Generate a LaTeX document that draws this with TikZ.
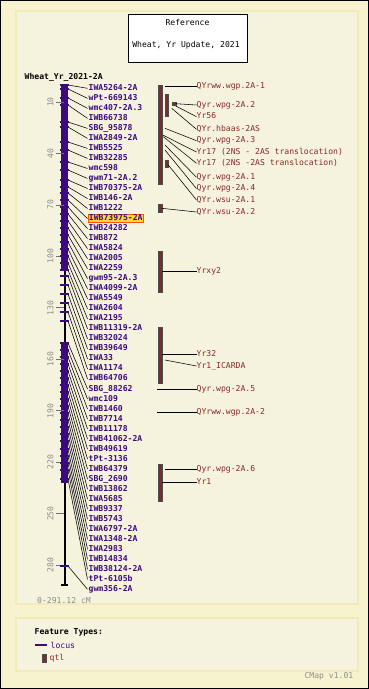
\documentclass[tikz,border=0pt]{standalone}
\usepackage{fontspec}
\newfontfamily\mf{DejaVu Sans Mono}
\definecolor{outerbg}{HTML}{F8F3CF}
\definecolor{innerbg}{HTML}{F5F2DD}
\definecolor{panelborder}{HTML}{F1EBBA}
\definecolor{locus}{HTML}{3D0A7D}
\definecolor{qtltext}{HTML}{8B2A2A}
\definecolor{qtlfill}{HTML}{7A2E2A}
\definecolor{scalegray}{HTML}{8E8E8E}
\definecolor{hlfill}{HTML}{FFD43A}
\definecolor{hlborder}{HTML}{F25A00}
\tikzset{
  basefont/.style={font=\mf\fontsize{8.1}{9}\selectfont},
  leftlab/.style={anchor=west, inner xsep=1pt, inner ysep=0.5pt, text height=5.8pt, text depth=1.6pt,
                  font=\mf\fontsize{8.1}{9}\selectfont\bfseries, text=locus},
  rightlab/.style={anchor=west, inner xsep=0pt, inner ysep=0.5pt, text height=5.8pt, text depth=1.6pt,
                  font=\mf\fontsize{8.1}{9}\selectfont, text=qtltext},
  plainlab/.style={},
  hlbox/.style={fill=hlfill, draw=hlborder, line width=0.8pt},
  conn/.style={draw=black, line width=0.55pt},
  ltick/.style={draw=locus, line width=1.3pt},
  qtlbar/.style={rectangle, fill=qtlfill, draw=black!70, line width=0.4pt, minimum width=3.4pt, inner sep=0pt},
  scalelab/.style={rotate=90, text=scalegray, font=\mf\fontsize{8.1}{9}\selectfont, inner sep=0pt},
  scaletick/.style={draw=scalegray!80!black, line width=0.7pt},
}
\begin{document}
\begin{tikzpicture}[x=1pt,y=-1pt]
\useasboundingbox (0,0) rectangle (369,689);
% frame and panels
\fill[outerbg] (0,0) rectangle (369,689);
\draw[black, line width=1pt] (0.5,0.5) rectangle (368.5,688.5);
\draw[panelborder, fill=innerbg, line width=2pt] (16,11) rectangle (358,604);
\draw[panelborder, fill=innerbg, line width=2pt] (16,618) rectangle (358,671);

% title box
\node[draw=black, fill=white, line width=0.8pt, minimum width=119pt, minimum height=48pt, inner sep=0pt] (title) at (187.5,38) {};
\node[basefont, inner sep=0pt] (tref) at (187.5,22) {Reference};
\node[basefont, inner sep=0pt] (tname) at (186,45) {Wheat, Yr Update, 2021};

% map name
\node[anchor=west, inner sep=0pt, font=\mf\fontsize{8.1}{9}\selectfont\bfseries] (mapname) at (24.5,77) {Wheat\_Yr\_2021-2A};

% chromosome backbone
\coordinate (ctop) at (64.5,85);
\coordinate (cbot) at (64.5,585);
\draw[black, line width=2pt] (ctop) -- (cbot);
\draw[black, line width=1.2pt] (61,585) -- (68,585);
\fill[locus] (61,85) rectangle (68,270);
\fill[locus] (61,343) rectangle (68,483);

% scale
\foreach \v in {10,40,70,100,130,160,190,220,250,280}{
  \pgfmathsetmacro\sy{84.85+1.715*\v}
  \draw[scaletick] (56,\sy) -- (64,\sy);
  \node[scalelab] (sc\v) at (50.5,\sy) {\v};
}
\node[anchor=west, inner sep=0pt, text=scalegray, font=\mf\fontsize{8.1}{9}\selectfont] (range) at (37,601) {0-291.12 cM};

% loci
\foreach \i/\t/\my in {
 0/IWA5264-2A/85, 1/wPt-669143/89, 2/wmc407-2A.3/98, 3/IWB66738/105,
 4/SBG\_95878/122, 5/IWA2849-2A/127, 6/IWB5525/142, 7/IWB32285/150,
 8/wmc598/162, 9/gwm71-2A.2/170, 10/IWB70375-2A/180, 11/IWB146-2A/187,
 12/IWB1222/193, 13/IWB73975-2A/200, 14/IWB24282/207, 15/IWB872/214,
 16/IWA5824/221, 17/IWA2005/228, 18/IWA2259/235, 19/gwm95-2A.3/242,
 20/IWA4099-2A/249, 21/IWA5549/256, 22/IWA2604/263, 23/IWA2195/270,
 24/IWB11319-2A/276, 25/IWB32024/285, 26/IWB39649/294, 27/IWA33/303,
 28/IWA1174/312, 29/IWB64706/321, 30/SBG\_88262/343, 31/wmc109/350,
 32/IWB1460/357, 33/IWB7714/364, 34/IWB11178/371, 35/IWB41062-2A/378,
 36/IWB49619/385, 37/tPt-3136/392, 38/IWB64379/399, 39/SBG\_2690/406,
 40/IWB13862/413, 41/IWA5685/420, 42/IWB9337/427, 43/IWB5743/434,
 44/IWA6797-2A/441, 45/IWA1348-2A/449, 46/IWA2983/456, 47/IWB14834/463,
 48/IWB38124-2A/470, 49/tPt-6105b/479, 50/gwm356-2A/566}{
  \pgfmathsetmacro\ly{88.3+10.02*\i}
  \ifnum\i=13 \def\hs{hlbox}\else\def\hs{plainlab}\fi
  \coordinate (m\i) at (68,\my);
  \node[leftlab,\hs] (l\i) at (87.5,\ly) {\t};
  \draw[conn] (m\i) -- (l\i.west);
  \draw[ltick] (59.5,\my) -- (68.5,\my);
}

% QTL bars
\node[qtlbar, minimum height=99.3pt] (qA) at (160,134.65) {};
\node[qtlbar, minimum height=22pt] (qB) at (166.7,105) {};
\node[qtlbar, minimum height=3.4pt] (qC) at (174,103.7) {};
\node[qtlbar, minimum height=7.3pt] (qD) at (166.7,163.65) {};
\node[qtlbar, minimum height=8pt] (qE) at (160,208) {};
\node[qtlbar, minimum height=40.7pt] (qF) at (160,271.35) {};
\node[qtlbar, minimum height=56pt] (qG) at (160,354.7) {};
\node[qtlbar, minimum height=36.4pt] (qH) at (160,482.5) {};

% QTL labels
\foreach \n/\t/\y/\sx/\sy in {
 1/QYrww.wgp.2A-1/86/165/86,
 2/Qyr.wpg-2A.2/105/175.7/103.7,
 3/Yr56/116.7/175.7/106,
 4/QYr.hbaas-2AS/129.3/171.7/108.3,
 5/Qyr.wpg-2A.3/140.7/165/128.3,
 6/Yr17 (2NS - 2AS translocation)/152/162.7/135,
 7/Yr17 (2NS -2AS translocation)/163.3/163.3/136.7,
 8/Qyr.wpg-2A.1/177.3/165/145,
 9/Qyr.wpg-2A.4/188.7/165/150,
 10/QYr.wsu-2A.1/200/168.3/165,
 11/QYr.wsu-2A.2/212/161.7/208.3,
 12/Yrxy2/271.7/161.7/271.7,
 13/Yr32/354/161.7/354,
 14/Yr1\_ICARDA/366/165/360,
 15/Qyr.wpg-2A.5/389/157.3/389,
 16/QYrww.wgp.2A-2/412.3/157.3/412.3,
 17/Qyr.wpg-2A.6/469.3/165/469.3,
 18/Yr1/482.3/161.7/482.3}{
  \coordinate (s\n) at (\sx,\sy);
  \node[rightlab] (r\n) at (196.5,\y) {\t};
  \draw[conn] (s\n) -- (r\n.west);
}

% legend
\node[anchor=west, inner sep=0pt, font=\mf\fontsize{8.1}{9}\selectfont\bfseries] (ftypes) at (34.5,632) {Feature Types:};
\coordinate (lg1) at (35,645);
\coordinate (lg2) at (47,645);
\draw[locus, line width=1.2pt] (lg1) -- (lg2);
\node[anchor=west, inner sep=0pt, text=locus, font=\mf\fontsize{8.1}{9}\selectfont] (llocus) at (50.5,645) {locus};
\node[qtlbar, minimum width=3.2pt, minimum height=7.6pt] (lqtl) at (44.2,658) {};
\node[anchor=west, inner sep=0pt, text=qtltext, font=\mf\fontsize{8.1}{9}\selectfont] (lqtltext) at (49.5,658) {qtl};

% footer
\node[anchor=east, inner sep=0pt, text=scalegray, font=\mf\fontsize{8.1}{9}\selectfont] (cmap) at (353.5,676) {CMap v1.01};
\end{tikzpicture}
\end{document}
